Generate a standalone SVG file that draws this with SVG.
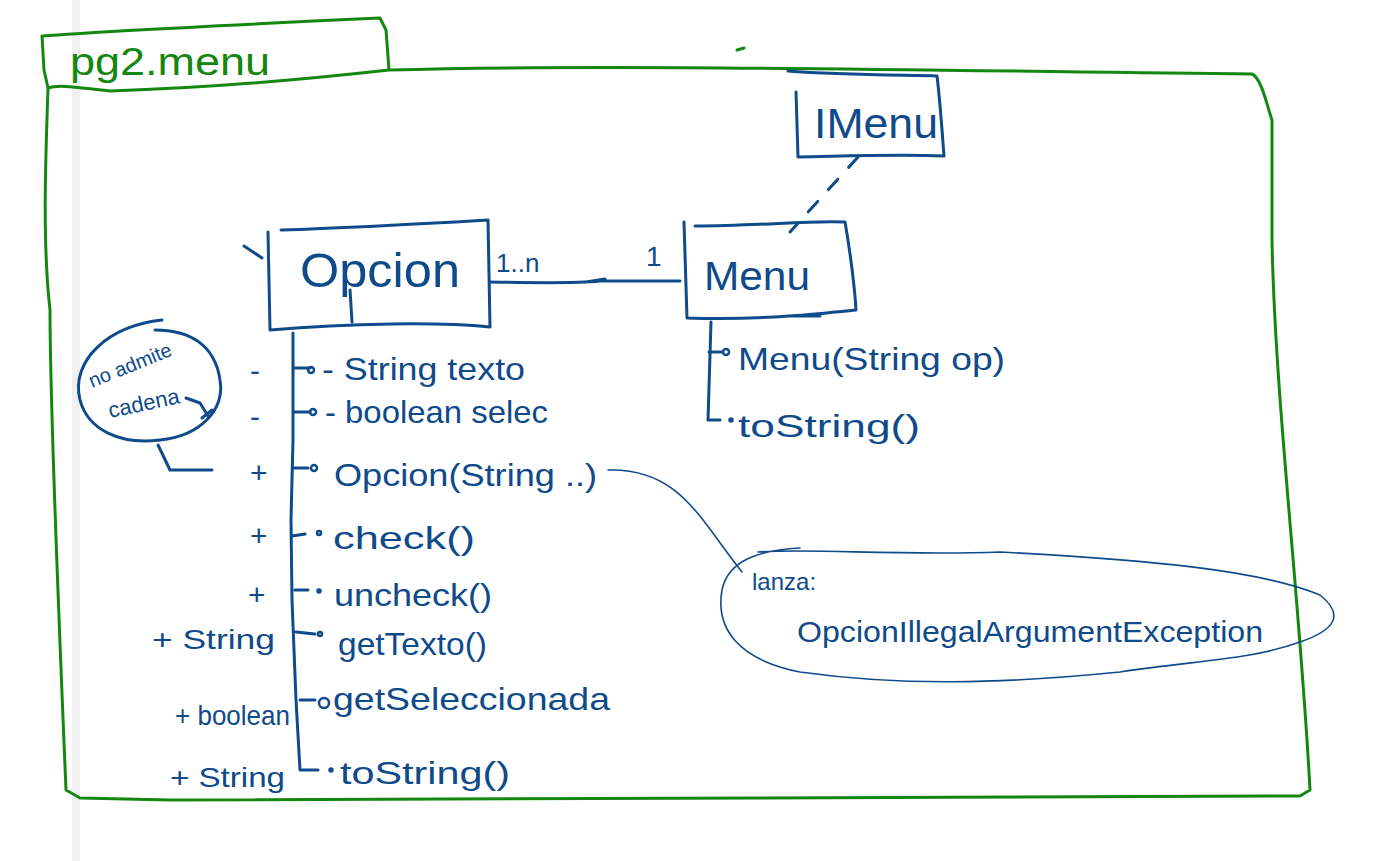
<svg xmlns="http://www.w3.org/2000/svg" width="1386" height="861" viewBox="0 0 1386 861">
<defs>
<style>
.g{fill:none;stroke:#14870f;stroke-width:3;stroke-linecap:round;stroke-linejoin:round}
.b{fill:none;stroke:#0f4a8a;stroke-width:3;stroke-linecap:round;stroke-linejoin:round}
.bt{fill:none;stroke:#0f4a8a;stroke-width:1.6;stroke-linecap:round;stroke-linejoin:round}
.t{font-family:"Liberation Sans",Arial,sans-serif;fill:#0f4a8a}
.gt{font-family:"Liberation Sans",Arial,sans-serif;fill:#14870f}
.dot{fill:none;stroke:#0f4a8a;stroke-width:2.5}
</style>
</defs>
<rect x="0" y="0" width="1386" height="861" fill="#ffffff"/>
<rect x="72" y="0" width="8" height="861" fill="#f0f0f0"/>

<g id="package">
<path class="g" d="M42,36 L44,70 L48,88 M42,36 C120,30 250,24 380,18 L386,30 L389,70 M48,88 C60,84 80,88 110,91 C200,88 300,80 389,70 C600,64 900,70 1252,74 C1262,78 1268,110 1272,120 L1272,160 L1272,240 C1275,400 1300,600 1310,790 L1300,796 C900,800 500,802 170,800 L80,798 L66,790 C58,600 50,400 50,310 C42,240 46,150 48,88"/>
<path class="g" d="M737,50 L744,48"/>
<text class="gt" x="70" y="75" font-size="38" textLength="200" lengthAdjust="spacingAndGlyphs">pg2.menu</text>
</g>

<g id="IMenu">
<path class="b" d="M788,71 C840,75 900,75 937,76 C940,100 942,130 944,156 C900,154 850,156 798,157 L796,92"/>
<text class="t" x="814" y="138" font-size="42" textLength="124" lengthAdjust="spacingAndGlyphs">IMenu</text>
</g>

<g id="Opcion">
<path class="b" d="M281,230 C350,228 420,224 488,220 L490,327 C440,322 350,323 270,330 L268,232 M350,290 L352,322 M244,246 L262,258"/>
<text class="t" x="300" y="287" font-size="48" textLength="160" lengthAdjust="spacingAndGlyphs">Opcion</text>
</g>

<g id="Menu">
<path class="b" d="M695,226 C760,226 810,220 845,222 C850,250 855,290 856,310 C800,316 750,320 687,318 L684,222 M790,316 L820,316"/>
<text class="t" x="704" y="290" font-size="40" textLength="106" lengthAdjust="spacingAndGlyphs">Menu</text>
</g>

<g id="connectors">
<path class="b" d="M490,282 C540,283 580,283 600,281 L680,281 M586,282 L605,279"/>
<path class="b" stroke-dasharray="14,16" d="M858,157 L790,232"/>
<path class="bt" d="M608,470 C680,468 700,520 742,572"/>
<path class="b" d="M158,445 L170,470 L212,470"/>
</g>

<g id="association-labels">
<text class="t" x="496" y="272" font-size="26">1..n</text>
<text class="t" x="646" y="266" font-size="28">1</text>
</g>

<g id="Opcion-members">
<path class="b" d="M293,333 L293,440 L291,520 L292,600 L296,700 L300,770 L318,770 M293,368 L310,368 M293,412 L310,412 M294,468 L308,468 M292,536 L305,534 M295,590 L308,590 M296,632 L315,634 M300,700 L315,700"/>
<circle class="dot" cx="311" cy="370" r="3"/>
<circle class="dot" cx="313" cy="412" r="3"/>
<circle class="dot" cx="314" cy="468" r="3"/>
<circle class="dot" cx="319" cy="533" r="2"/>
<circle class="dot" cx="319" cy="591" r="1.5"/>
<circle class="dot" cx="320" cy="634" r="2"/>
<circle class="dot" cx="324" cy="703" r="5"/>
<circle class="dot" cx="331" cy="770" r="1.5"/>
<g class="t" font-size="32">
<text x="322" y="380" textLength="203" lengthAdjust="spacingAndGlyphs">- String texto</text>
<text x="325" y="423" textLength="223" lengthAdjust="spacingAndGlyphs">- boolean selec</text>
<text x="334" y="486" textLength="263" lengthAdjust="spacingAndGlyphs">Opcion(String ..)</text>
<text x="333" y="549" textLength="142" lengthAdjust="spacingAndGlyphs">check()</text>
<text x="334" y="606" textLength="158" lengthAdjust="spacingAndGlyphs">uncheck()</text>
<text x="338" y="655" textLength="149" lengthAdjust="spacingAndGlyphs">getTexto()</text>
<text x="333" y="710" textLength="277" lengthAdjust="spacingAndGlyphs">getSeleccionada</text>
<text x="340" y="784" textLength="170" lengthAdjust="spacingAndGlyphs">toString()</text>
</g>
<g class="t" font-size="30">
<text x="250" y="381">-</text>
<text x="250" y="427">-</text>
<text x="250" y="483">+</text>
<text x="250" y="546">+</text>
<text x="248" y="605">+</text>
</g>
<g class="t" font-size="28">
<text x="152" y="649" textLength="123" lengthAdjust="spacingAndGlyphs">+ String</text>
<text x="175" y="725" textLength="115" lengthAdjust="spacingAndGlyphs">+ boolean</text>
<text x="170" y="787" textLength="115" lengthAdjust="spacingAndGlyphs">+ String</text>
</g>
</g>

<g id="Menu-members">
<path class="b" d="M711,322 L708,420 L720,420 M709,352 L722,352"/>
<circle class="dot" cx="726" cy="352" r="3"/>
<circle class="dot" cx="731" cy="420" r="1.5"/>
<g class="t" font-size="32">
<text x="738" y="370" textLength="267" lengthAdjust="spacingAndGlyphs">Menu(String op)</text>
<text x="738" y="437" textLength="182" lengthAdjust="spacingAndGlyphs">toString()</text>
</g>
</g>

<g id="note-cadena">
<path class="b" d="M162,320 C110,325 70,360 80,400 C88,430 120,445 160,440 C200,436 225,410 220,380 C215,345 190,330 155,330"/>
<text class="t" x="92" y="388" font-size="20" transform="rotate(-22 92 388)">no admite</text>
<text class="t" x="110" y="418" font-size="22" transform="rotate(-12 110 418)">cadena</text>
<path class="b" stroke-width="5" d="M186,398 L200,403 L208,416 M202,418 L212,410"/>
</g>

<g id="note-lanza">
<path class="bt" d="M758,552 C810,548 900,556 1000,552 C1150,560 1260,570 1320,595 C1345,615 1335,630 1300,642 C1250,660 1200,660 1120,672 C1000,684 900,686 800,672 C740,660 715,630 722,590 C728,560 760,550 800,548"/>
<text class="t" x="752" y="590" font-size="24">lanza:</text>
<text class="t" x="797" y="642" font-size="30" textLength="466" lengthAdjust="spacingAndGlyphs">OpcionIllegalArgumentException</text>
</g>
</svg>
